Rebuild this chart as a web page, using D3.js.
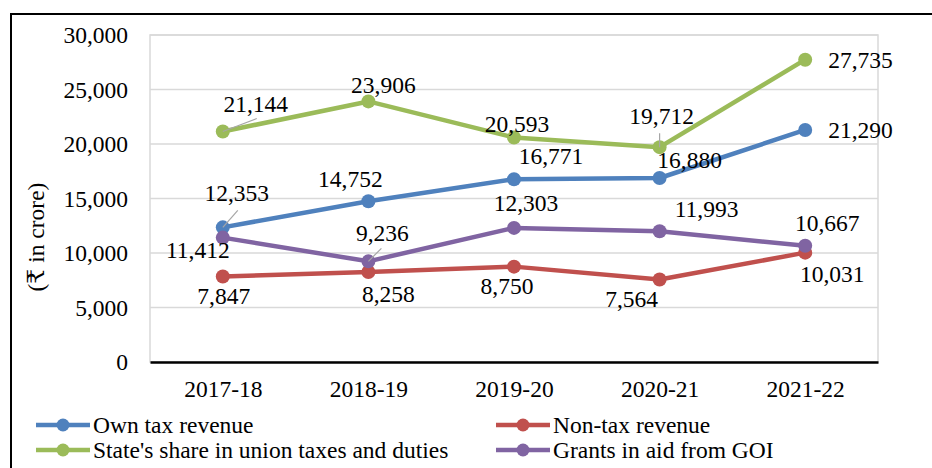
<!DOCTYPE html>
<html><head><meta charset="utf-8">
<script src="https://cdn.jsdelivr.net/npm/d3@7/dist/d3.min.js"></script>
<style>body{margin:0;background:#fff}svg{display:block}</style>
</head><body><svg id="c" width="932" height="468"></svg>
<script>
const categories = ["2017-18","2018-19","2019-20","2020-21","2021-22"];
const seriesNames = ["Own tax revenue","Non-tax revenue","State's share in union taxes and duties","Grants in aid from GOI"];
const ownTax = [12353,14752,16771,16880,21290];
const nonTax = [7847,8258,8750,7564,10031];
const stateShare = [21144,23906,20593,19712,27735];
const grants = [11412,9236,12303,11993,10667];
const yTicks = [0,5000,10000,15000,20000,25000,30000];
const colors = ["#4F81BD","#C0504D","#9BBB59","#8064A2"];
const FONT = "'Liberation Serif', 'Times New Roman', Tinos, 'DejaVu Serif', serif";
const FS = 23.5;

// label placement offsets (pixels relative to point): [dx, dy, anchor, leaderDx, leaderDy]
const labelLayout = [
  [[14,-35,"middle",15,-17],[-18,-22,"middle"],[37,-23,"middle"],[30,-18,"middle"],[23,0,"start"]],
  [[1,19,"middle"],[20,22,"middle"],[-7,19,"middle"],[-28,19,"middle"],[27,21,"middle"]],
  [[33,-28,"middle",34,-13],[15,-17,"middle"],[3,-14,"middle"],[2,-31,"middle",0,-14],[23,0,"start"]],
  [[-25,12,"middle"],[14,-29,"middle",13,-13],[12,-25,"middle"],[47,-23,"middle"],[22,-23,"middle"]]
];

const series = [ownTax, nonTax, stateShare, grants];
const svg = d3.select("#c").attr("font-family", FONT);
const L=150, T=35, R=878, B=362;
const x = d3.scalePoint().domain(categories).range([L,R]).padding(0.5);
const y = d3.scaleLinear().domain([0,30000]).range([B,T]);
const fmt = d3.format(",");

svg.append("rect").attr("x",11).attr("y",14).attr("width",940).attr("height",470)
  .attr("fill","none").attr("stroke","#000").attr("stroke-width",2);

svg.append("rect").attr("x",L).attr("y",T).attr("width",R-L).attr("height",B-T)
  .attr("fill","none").attr("stroke","#d9d9d9").attr("stroke-width",1.5);

svg.append("g").selectAll("line").data(yTicks.filter(d=>d>0)).join("line")
  .attr("x1",L).attr("x2",R).attr("y1",d=>y(d)).attr("y2",d=>y(d))
  .attr("stroke","#d9d9d9").attr("stroke-width",1.5);

const ya = svg.append("g").attr("transform",`translate(${L},0)`)
  .call(d3.axisLeft(y).tickValues(yTicks).tickFormat(fmt).tickSize(0).tickPadding(22));
ya.attr("font-family", FONT).attr("font-size", FS);
ya.select(".domain").remove();
ya.selectAll("text").attr("fill","#000");

const xa = svg.append("g").attr("transform",`translate(0,${B})`)
  .call(d3.axisBottom(x).tickSize(0).tickPadding(18));
xa.attr("font-family", FONT).attr("font-size", FS);
xa.select(".domain").attr("stroke","#000").attr("stroke-width",2.5);
xa.selectAll("text").attr("fill","#000");

svg.append("text").attr("transform","translate(36,237) rotate(-90)")
  .attr("text-anchor","middle").attr("dy","0.35em").attr("font-size",FS).text("(₹ in crore)");

const line = d3.line().x((d,i)=>x(categories[i])).y(d=>y(d));
series.forEach((s,k)=>{
  svg.append("path").datum(s).attr("d",line).attr("fill","none")
    .attr("stroke",colors[k]).attr("stroke-width",4.5).attr("stroke-linejoin","round");
});
series.forEach((s,k)=>{
  svg.append("g").selectAll("circle").data(s).join("circle")
    .attr("cx",(d,i)=>x(categories[i])).attr("cy",d=>y(d)).attr("r",7).attr("fill",colors[k]);
});
series.forEach((s,k)=>{
  s.forEach((v,i)=>{
    const lay = labelLayout[k][i];
    const px = x(categories[i]), py = y(v);
    if(lay.length>3){
      svg.append("line").attr("x1",px).attr("y1",py).attr("x2",px+lay[3]).attr("y2",py+lay[4])
        .attr("stroke","#a6a6a6").attr("stroke-width",1.2);
    }
    svg.append("text").attr("x",px+lay[0]).attr("y",py+lay[1]).attr("dy","0.35em")
      .attr("text-anchor",lay[2]).attr("font-size",FS).text(fmt(v));
  });
});

const legPos = [[36,425],[496,425],[36,450],[496,450]];
seriesNames.forEach((n,k)=>{
  const [lx,ly] = legPos[k];
  const g = svg.append("g");
  g.append("line").attr("x1",lx).attr("x2",lx+54).attr("y1",ly).attr("y2",ly)
    .attr("stroke",colors[k]).attr("stroke-width",4.5);
  g.append("circle").attr("cx",lx+27).attr("cy",ly).attr("r",6.5).attr("fill",colors[k]);
  g.append("text").attr("x",lx+57).attr("y",ly).attr("dy","0.35em").attr("font-size",FS).text(n);
});
</script></body></html>
